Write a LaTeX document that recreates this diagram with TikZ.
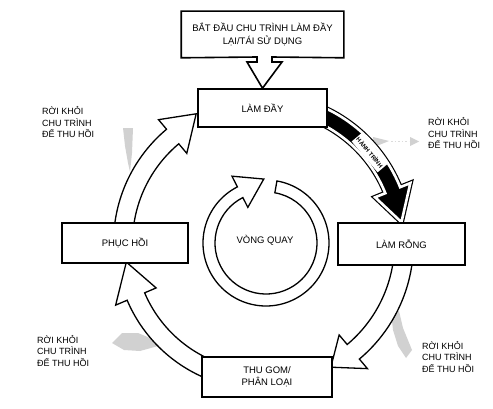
\documentclass[tikz,border=0pt]{standalone}
\usepackage{fontspec}
\setmainfont{Liberation Sans}
\usetikzlibrary{calc}
% #1 centre, #2 radius, #3 half shaft width, #4 tail angle, #5 head-base angle, #6 half head width, #7 tip angle, #8 tip radius
\newcommand\ringpath[8]{($(#1)+(#4:{#2+#3})$) arc[start angle=#4, end angle=#5, radius={#2+#3}] -- ($(#1)+(#5:{#2+#6})$) -- ($(#1)+(#7:#8)$) -- ($(#1)+(#5:{#2-#6})$) -- ($(#1)+(#5:{#2-#3})$) arc[start angle=#5, end angle=#4, radius={#2-#3}] -- cycle}
\begin{document}
\begin{tikzpicture}[x=1pt,y=1pt,
  box/.style={draw, line width=1.6pt, fill=white, inner sep=0pt, align=center, font=\fontsize{9.5}{12.5}\selectfont},
  fat/.style={draw, line width=1.3pt, fill=white},
  note/.style={align=left, anchor=west, inner sep=0pt, font=\fontsize{9}{11.5}\selectfont},
  smudge/.style={fill=black!18, draw=none}]
\useasboundingbox (0,0) rectangle (493,408);
\coordinate (C) at (262,165);
\coordinate (cc) at (266,165);

% faint grey "leave the cycle" marks
\fill[smudge] (373,271) -- (389,267) -- (374,261) -- cycle;
\draw[black!14, dotted, line width=1.6pt] (391,266.5) -- (409,266.5);
\fill[smudge] (410,271) -- (419,266.5) -- (410,262) -- cycle;
\fill[smudge] (123,280) -- (133,280) -- (132,255) -- (130,236) -- (128,245) -- (125,262) -- cycle;
\fill[smudge] (112,65) -- (122,75) -- (138,75) -- (150,70) -- (158,62) -- (140,57) -- (124,58) -- cycle;
\fill[smudge] (391,96) -- (399,97) -- (403,80) -- (412,58) -- (406,50) -- (398,62) -- (393,78) -- cycle;

% ring arrows
\draw[fat] \ringpath{C}{139}{9.5}{178}{130}{22}{117}{145};
\draw[fat] \ringpath{C}{142}{9.5}{-5}{-50}{22}{-61}{142};
\draw[fat] \ringpath{C}{137}{9.5}{-112}{-157}{22}{-172}{137};
% black arrow (HANH TRINH)
\fill[black] \ringpath{C}{141}{8}{67}{22}{19}{8.5}{141};
\draw[black, line width=5pt] \ringpath{C}{141}{8}{67}{22}{19}{8.5}{141};
\draw[white, line width=2.6pt] \ringpath{C}{141}{8}{67}{22}{19}{8.5}{141};
\node[fill=white, inner xsep=1.5pt, inner ysep=0pt, minimum height=14pt, rotate=-50,
      font=\bfseries\fontsize{6}{6}\selectfont] (journey) at ($(C)+(40:141)$) {HÀNH TRÌNH};

% central circular arrow
\draw[fat] ($(cc)+(80:63)$) arc[start angle=80, end angle=-243, radius=63]
  -- ($(cc)+(117:75)$) -- ($(cc)+(92:64)$) -- ($(cc)+(117:40)$) -- ($(cc)+(117:51)$)
  arc[start angle=-243, end angle=80, radius=51] -- cycle;
\node[font=\fontsize{9.5}{12}\selectfont, inner sep=0pt] (spin) at (265,168) {VÒNG QUAY};

% boxes
\node[box, minimum width=129pt, minimum height=38pt] (fill) at (262.5,300) {LÀM ĐẦY};
\node[box, minimum width=127pt, minimum height=42pt] (empty) at (401.5,164) {LÀM RỖNG};
\node[box, minimum width=126pt, minimum height=40pt] (recover) at (125,165) {PHỤC HỒI};
\node[box, minimum width=130pt, minimum height=40pt] (collect) at (267,31) {THU GOM/\\PHÂN LOẠI};
\node[box, draw=none, fill=none, minimum width=161pt, minimum height=45pt] (start) at (262.5,373.5)
  {BẮT ĐẦU CHU TRÌNH LÀM ĐẦY\\LẠI/TÁI SỬ DỤNG};
\draw[line width=1.6pt] (start.north west) -- (start.north east) -- (start.south east)
  -- (272,351) -- (272,346) -- (282,346) -- (fill.north) -- (247,346) -- (257,346) -- (257,351)
  -- (start.south west) -- cycle;

% leave-the-cycle labels
\node[note] (l1) at (42,285.5) {RỜI KHỎI\\CHU TRÌNH\\ĐỂ THU HỒI};
\node[note] (l2) at (428,274.5) {RỜI KHỎI\\CHU TRÌNH\\ĐỂ THU HỒI};
\node[note] (l3) at (37,57) {RỜI KHỎI\\CHU TRÌNH\\ĐỂ THU HỒI};
\node[note] (l4) at (422,51) {RỜI KHỎI\\CHU TRÌNH\\ĐỂ THU HỒI};
\end{tikzpicture}
\end{document}
